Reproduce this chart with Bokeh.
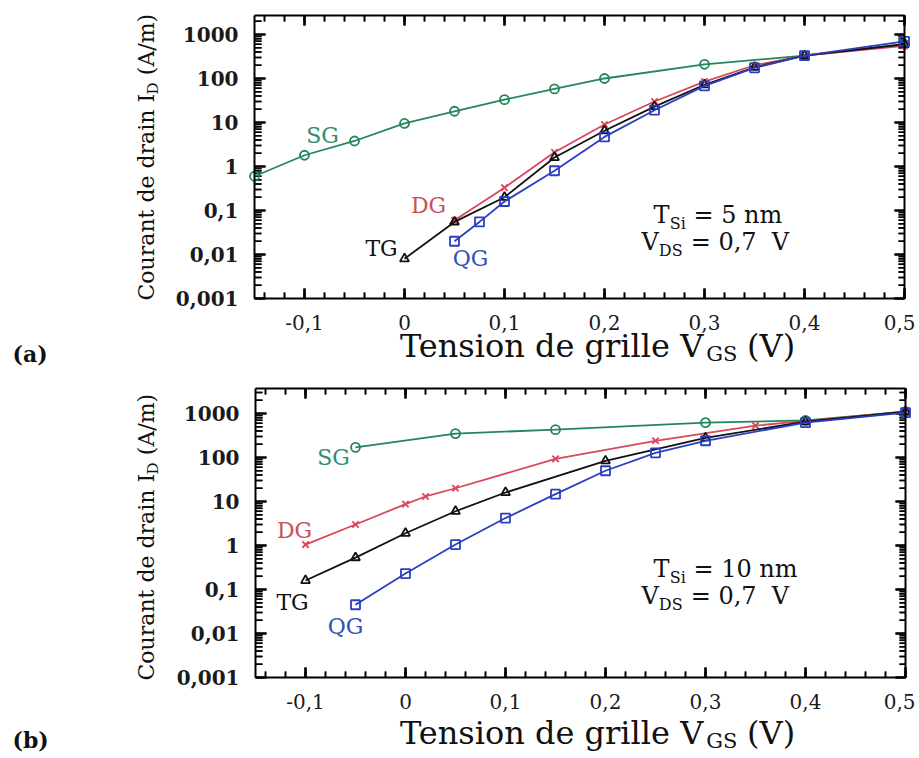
import math
import numpy as np
from bokeh.plotting import figure
from bokeh.models import FixedTicker, LinearAxis, LogAxis, Label, Range1d
from bokeh.layouts import column
from bokeh.embed import file_html
from bokeh.resources import INLINE

# ---------------- data ----------------
# panel (a) : T_Si = 5 nm
sg_a_vgs = [-0.15, -0.1, -0.05, 0.0, 0.05, 0.1, 0.15, 0.2, 0.3, 0.4, 0.5]
sg_a_id = [0.6, 1.8, 3.8, 9.5, 18, 33, 58, 100, 210, 330, 600]
dg_a_vgs = [0.05, 0.1, 0.15, 0.2, 0.25, 0.3, 0.35, 0.4, 0.5]
dg_a_id = [0.06, 0.33, 2.1, 9, 30, 85, 200, 330, 550]
tg_a_vgs = [0.0, 0.05, 0.1, 0.15, 0.2, 0.25, 0.3, 0.35, 0.4, 0.5]
tg_a_id = [0.008, 0.055, 0.2, 1.6, 6.5, 23, 72, 180, 330, 600]
qg_a_vgs = [0.05, 0.075, 0.1, 0.15, 0.2, 0.25, 0.3, 0.35, 0.4, 0.5]
qg_a_id = [0.02, 0.055, 0.16, 0.8, 4.7, 19, 68, 175, 330, 700]

# panel (b) : T_Si = 10 nm
sg_b_vgs = [-0.05, 0.05, 0.15, 0.3, 0.4, 0.5]
sg_b_id = [170, 350, 430, 620, 700, 1100]
dg_b_vgs = [-0.1, -0.05, 0.0, 0.02, 0.05, 0.15, 0.25, 0.35, 0.4, 0.5]
dg_b_id = [1.05, 3.0, 8.7, 13, 20, 93, 240, 530, 680, 1100]
tg_b_vgs = [-0.1, -0.05, 0.0, 0.05, 0.1, 0.2, 0.3, 0.4, 0.5]
tg_b_id = [0.16, 0.53, 1.9, 6.0, 16, 84, 280, 650, 1100]
qg_b_vgs = [-0.05, 0.0, 0.05, 0.1, 0.15, 0.2, 0.25, 0.3, 0.4, 0.5]
qg_b_id = [0.045, 0.23, 1.05, 4.2, 14.7, 50, 128, 240, 620, 1050]

x_ticks = [-0.1, 0.0, 0.1, 0.2, 0.3, 0.4, 0.5]
x_tick_labels = ["-0,1", "0", "0,1", "0,2", "0,3", "0,4", "0,5"]
y_ticks = [0.001, 0.01, 0.1, 1, 10, 100, 1000]
y_tick_labels = ["0,001", "0,01", "0,1", "1", "10", "100", "1000"]
x_min, x_max, y_min = -0.15, 0.5, 0.001

series_names = ["SG", "DG", "TG", "QG"]
series_colors = {"SG": "#23875a", "DG": "#d8475c", "TG": "#111111", "QG": "#2a3fc0"}
series_markers = {"SG": "circle", "DG": "x", "TG": "triangle", "QG": "square"}
label_colors = {"SG": "#2f8f6a", "DG": "#c8505c", "TG": "#111111", "QG": "#3050b8"}

# ---------------- styling helpers ----------------
FONT = "DejaVu Serif"
PAGE_W = 915
BASE_SHIFT = 0.34  # renderer places "alphabetic" text ~0.34em low; compensate

x_minor = [round(-0.14 + 0.02 * i, 2) for i in range(33)]
y_minor_all = [m * 10.0 ** e for e in range(-3, 4) for m in range(2, 10)]

# approximate DejaVu Serif advance widths (em)
CW = {" ": .318, "(": .390, ")": .390, ",": .318, ".": .318, "/": .337, "=": .838,
      "-": .361, "A": .722, "C": .715, "D": .828, "G": .773, "I": .402, "S": .685,
      "T": .674, "V": .722, "a": .600, "d": .641, "e": .592, "g": .641, "i": .321,
      "l": .321, "m": .953, "n": .642, "o": .604, "r": .481, "s": .513, "t": .401,
      "u": .642}
for dch in "0123456789":
    CW[dch] = .636


def tw(s, size):
    return sum(CW.get(c, 0.6) for c in s) * size


def broken(pairs_x, pairs_y):
    xs, ys = [], []
    for (a0, a1), (b0, b1) in zip(pairs_x, pairs_y):
        xs += [a0, a1, np.nan]
        ys += [b0, b1, np.nan]
    return np.array(xs, dtype=float), np.array(ys, dtype=float)


def make_panel(geom, fig_top, fig_h, ytop, data):
    # geom: plot box in page pixels (left, right, top, bottom)
    L, R, T, B = geom
    dx = (x_max - x_min) / (R - L)
    ppd = (B - T) / (math.log10(ytop) - math.log10(y_min))
    xs0 = x_min - L * dx
    xs1 = x_min + (PAGE_W - L) * dx
    ys1 = 10 ** (math.log10(ytop) + (T - fig_top) / ppd)
    ys0 = 10 ** (math.log10(y_min) - (fig_top + fig_h - B) / ppd)

    p = figure(width=PAGE_W, height=fig_h,
               x_range=Range1d(xs0, xs1), y_range=Range1d(ys0, ys1),
               y_axis_type="log", output_backend="svg", toolbar_location=None,
               min_border=0, background_fill_color="white",
               border_fill_color="white")
    p.xgrid.visible = False
    p.ygrid.visible = False
    p.outline_line_color = None

    def style(ax, labels):
        ax.axis_line_width = 2
        ax.axis_line_color = "black"
        ax.major_tick_line_color = None
        ax.minor_tick_line_color = None
        if not labels:
            ax.major_label_text_color = None
            ax.major_label_text_font_size = "4px"
            ax.major_label_standoff = 0

    xa = p.xaxis[0]
    xa.ticker = FixedTicker(ticks=x_ticks, minor_ticks=x_minor)
    xa.fixed_location = y_min
    xa.bounds = (x_min, x_max)
    style(xa, True)
    xa.major_label_overrides = dict(zip(x_ticks, x_tick_labels))
    xa.major_label_text_font = FONT
    xa.major_label_text_font_size = "20px"
    xa.major_label_text_color = "#1a1a1a"
    xa.major_label_standoff = 10

    ya = p.yaxis[0]
    ya.ticker = FixedTicker(ticks=y_ticks, minor_ticks=y_minor_all)
    ya.fixed_location = x_min
    ya.bounds = (y_min, ytop)
    style(ya, True)
    ya.major_label_overrides = dict(zip(y_ticks, y_tick_labels))
    ya.major_label_text_font = FONT
    ya.major_label_text_font_size = "20px"
    ya.major_label_text_font_style = "bold"
    ya.major_label_text_color = "#1a1a1a"
    ya.major_label_standoff = 10

    top = LinearAxis(ticker=FixedTicker(ticks=x_ticks, minor_ticks=x_minor),
                     fixed_location=ytop, bounds=(x_min, x_max))
    style(top, False)
    p.add_layout(top, "above")
    right = LogAxis(ticker=FixedTicker(ticks=y_ticks, minor_ticks=y_minor_all),
                    fixed_location=x_max, bounds=(y_min, ytop))
    style(right, False)
    p.add_layout(right, "right")

    # inward ticks on all four sides
    y_minor = [v for v in y_minor_all if v < ytop]

    def vt(px):  # vertical pixel length -> factor on the log axis
        return 10 ** (px / ppd)

    for xs_, ln, lw in ((x_ticks, 10, 2.2), (x_minor, 6, 1.6)):
        bx, by = broken([(v, v) for v in xs_], [(y_min, y_min * vt(ln))] * len(xs_))
        p.line(bx, by, line_color="black", line_width=lw)
        bx, by = broken([(v, v) for v in xs_], [(ytop, ytop / vt(ln))] * len(xs_))
        p.line(bx, by, line_color="black", line_width=lw)
        # same ticks again as dash markers
        p.scatter(xs_, [y_min * vt(ln / 2)] * len(xs_), marker="dash", size=ln,
                  angle=math.pi / 2, line_color="black", line_width=lw)
        p.scatter(xs_, [ytop / vt(ln / 2)] * len(xs_), marker="dash", size=ln,
                  angle=math.pi / 2, line_color="black", line_width=lw)
    for ys_, ln, lw in ((y_ticks, 11, 2.2), (y_minor, 7, 1.6)):
        bx, by = broken([(x_min, x_min + ln * dx)] * len(ys_), [(v, v) for v in ys_])
        p.line(bx, by, line_color="black", line_width=lw)
        bx, by = broken([(x_max, x_max - (ln - 1) * dx)] * len(ys_), [(v, v) for v in ys_])
        p.line(bx, by, line_color="black", line_width=lw)
        p.scatter([x_min + ln / 2 * dx] * len(ys_), ys_, marker="dash", size=ln,
                  line_color="black", line_width=lw)
        p.scatter([x_max - (ln - 1) / 2 * dx] * len(ys_), ys_, marker="dash",
                  size=ln - 1, line_color="black", line_width=lw)

    for name in series_names:
        xs, ys = data[name]
        c = series_colors[name]
        p.line(xs, ys, line_color=c, line_width=1.8)
        p.scatter(xs, ys, marker=series_markers[name], size=9, line_color=c,
                  fill_color=None, line_width=1.8)

    def conv(px, py):
        x = x_min + (px - L) * dx
        y = 10 ** (math.log10(y_min) + (B - py) / ppd)
        return x, y

    def lab(px, py, text, size, color="#111111", align="left", baseline="alphabetic",
            style_="normal", angle=0.0):
        if baseline == "alphabetic":
            if angle == 0.0:
                py -= BASE_SHIFT * size
            else:
                px -= BASE_SHIFT * size
        x, y = conv(px, py)
        p.add_layout(Label(x=x, y=y, text=text, text_font=FONT,
                           text_font_size=f"{size}px", text_color=color,
                           text_align=align, text_baseline=baseline,
                           text_font_style=style_, angle=angle))

    def rich(px, py, parts):
        cx = px
        for text, size, dy in parts:
            stripped = text.lstrip(" ")
            cx += tw(text[:len(text) - len(stripped)], size)
            lab(cx, py + dy, stripped, size)
            cx += tw(stripped, size)

    return p, lab, rich


# ---------------- panel (a) ----------------
geom_a = (254, 904, 15, 298)
pa, lab_a, rich_a = make_panel(geom_a, 0, 375, 2700, {
    "SG": (sg_a_vgs, sg_a_id), "DG": (dg_a_vgs, dg_a_id),
    "TG": (tg_a_vgs, tg_a_id), "QG": (qg_a_vgs, qg_a_id)})

# ---------------- panel (b) ----------------
geom_b = (255, 905, 388, 677)
pb, lab_b, rich_b = make_panel(geom_b, 375, 381, 3700, {
    "SG": (sg_b_vgs, sg_b_id), "DG": (dg_b_vgs, dg_b_id),
    "TG": (tg_b_vgs, tg_b_id), "QG": (qg_b_vgs, qg_b_id)})


def add_texts(lab, rich, ybot, xt_base, ann_y, tsi, curve_pos):
    # y-axis title (rotated, reading upwards)
    s1, s2, s3 = "Courant de drain I", "D", "(A/m)"
    fs = 22
    y = ybot
    lab(153, y, s1, fs, angle=math.pi / 2)
    y -= tw(s1, fs)
    lab(158, y, s2, 15, angle=math.pi / 2)
    y -= tw(s2, 15) + tw(" ", fs)
    lab(153, y, s3, fs, angle=math.pi / 2)
    # x-axis title
    fs = 32
    total = tw("Tension de grille V", fs) + tw("GS", 21) + tw(" (V)", fs)
    rich(597 - total / 2, xt_base, [("Tension de grille V", fs, 0),
                                    ("GS", 21, 5), (" (V)", fs, 0)])
    # annotation
    rich(653, ann_y, [("T", 24, 0), ("Si", 16, 5), (" = " + tsi + " nm", 24, 0)])
    rich(641, ann_y + 27, [("V", 24, 0), ("DS", 16, 5), (" = 0,7", 24, 0),
                           ("  V", 24, 0)])
    # curve labels
    for name, (cx, cy) in curve_pos.items():
        lab(cx, cy, name, 22, color=label_colors[name], align="center",
            baseline="middle")


add_texts(lab_a, rich_a, 300, 356, 223, "5",
          {"SG": (322, 135), "DG": (428, 205), "TG": (381, 248), "QG": (470, 258)})
add_texts(lab_b, rich_b, 680, 743, 577, "10",
          {"SG": (333, 457), "DG": (294, 530), "TG": (292, 602), "QG": (345, 626)})

lab_a(12, 361, "(a)", 22, style_="bold")
lab_b(12, 747, "(b)", 22, style_="bold")

layout = column(pa, pb, spacing=0)
open("out.html", "w").write(file_html(layout, INLINE))
